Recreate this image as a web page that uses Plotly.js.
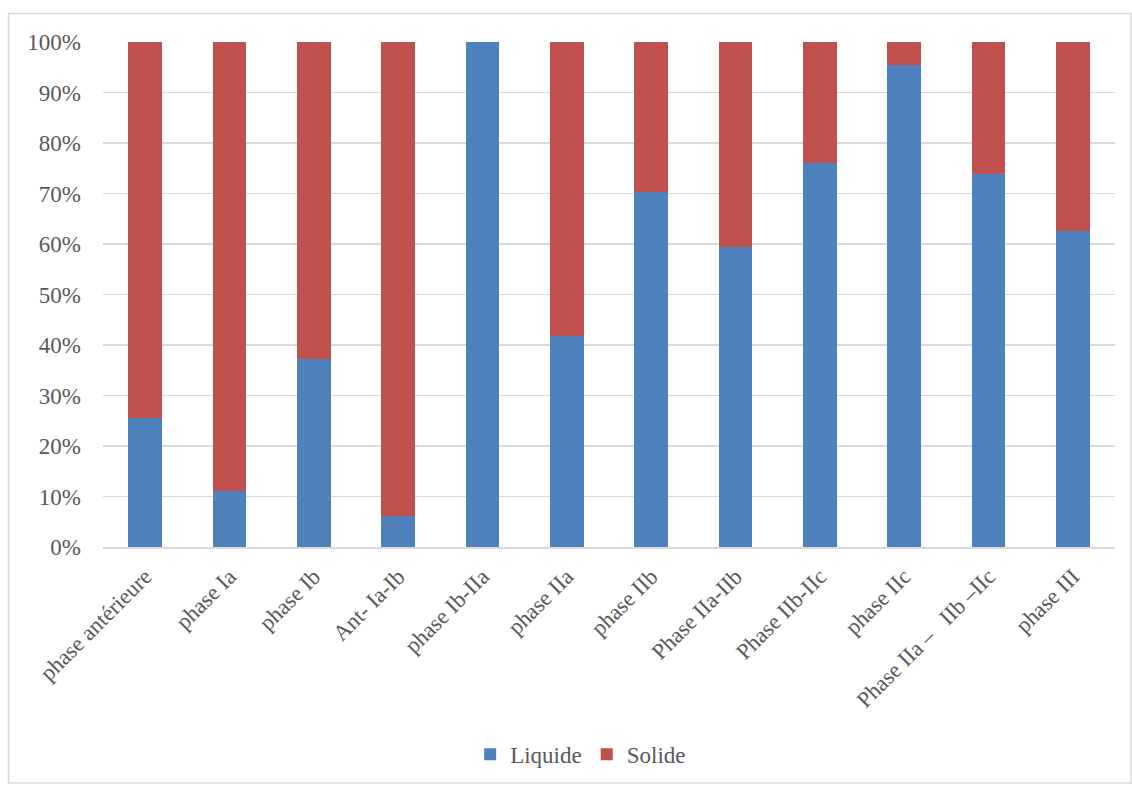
<!DOCTYPE html>
<html>
<head>
<meta charset="utf-8">
<script src="https://cdn.plot.ly/plotly-3.0.1.min.js"></script>
<style>html,body{margin:0;padding:0;background:#fff;}#chart{width:1132px;height:787px;}</style>
</head>
<body>
<div id="chart"></div>
<script>
const categories = ["phase antérieure","phase Ia","phase Ib","Ant- Ia-Ib","phase Ib-IIa","phase IIa","phase IIb","Phase IIa-IIb","Phase IIb-IIc","phase IIc","Phase IIa –\u00a0\u00a0\u00a0IIb –IIc","phase III"];
const liquide = [25.6, 11.0, 37.3, 6.1, 100, 41.8, 70.2, 59.4, 76.1, 95.5, 73.8, 62.5];
const solide = liquide.map(v => 100 - v);
const yTickVals = [0,10,20,30,40,50,60,70,80,90,100];
const yTickText = ["0%","10%","20%","30%","40%","50%","60%","70%","80%","90%","100%"];

const family = "'Liberation Serif', 'Times New Roman', Times, serif";
const font = {family: family, size: 23, color: "#595959"};
const xfont = {family: family, size: 22.5, color: "#595959"};

const data = [
  {type: "bar", name: "Liquide", x: categories, y: liquide, marker: {color: "#4f81bd"}, hoverinfo: "none"},
  {type: "bar", name: "Solide", x: categories, y: solide, marker: {color: "#c0504d"}, hoverinfo: "none"}
];

const W = 1012, H = 507, L = 103, T = 42;
const layout = {
  width: 1132, height: 787,
  margin: {l: L, r: 1132 - L - W, t: T, b: 787 - T - H, pad: 0},
  barmode: "stack",
  bargap: 0.6,
  paper_bgcolor: "#ffffff",
  plot_bgcolor: "#ffffff",
  font: font,
  showlegend: true,
  legend: {orientation: "h", x: 0.472, xanchor: "center", y: (T + H - 757) / H, yanchor: "middle", font: font, itemwidth: 30, traceorder: "normal"},
  xaxis: {
    type: "category", tickangle: -45, showgrid: false, showline: true, linecolor: "#d9d9d9", linewidth: 1.5,
    ticks: "", tickfont: xfont, ticklabelstandoff: 6, fixedrange: true
  },
  yaxis: {
    range: [0, 100], tickvals: yTickVals, ticktext: yTickText, showgrid: true, gridcolor: "#d9d9d9", gridwidth: 1.5,
    zeroline: false, showline: false, ticks: "", tickfont: font, ticklabelstandoff: 21, fixedrange: true
  },
  shapes: [{
    type: "rect", xref: "paper", yref: "paper", layer: "below",
    x0: (8.5 - L) / W, x1: (1131 - L) / W, y0: (T + H - 786) / H, y1: (T + H - 13.5) / H,
    line: {color: "#d9d9d9", width: 1.5}
  }]
};
Plotly.newPlot("chart", data, layout, {displayModeBar: false, staticPlot: true});
</script>
</body>
</html>
